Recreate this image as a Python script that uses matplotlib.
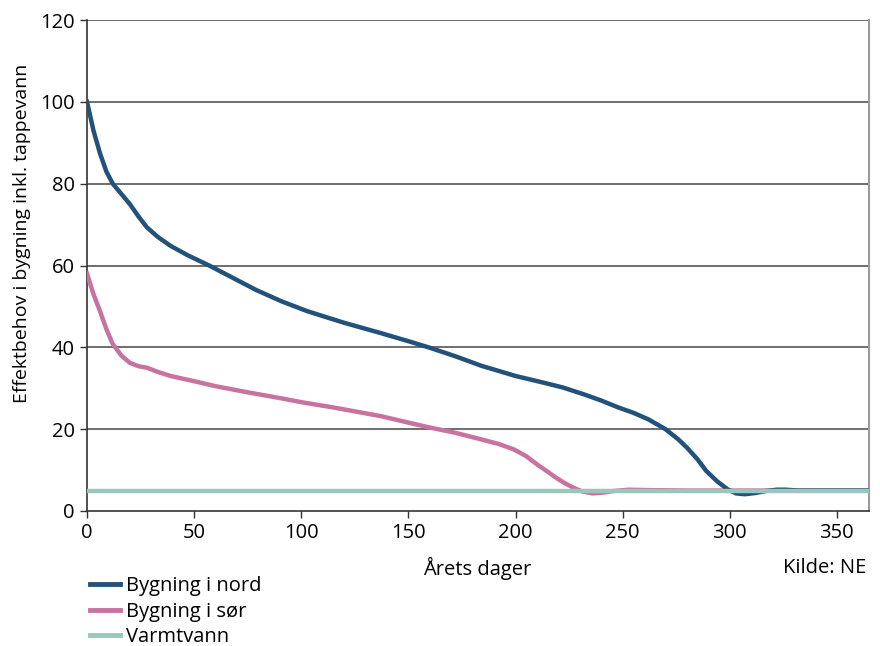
import numpy as np
import matplotlib.pyplot as plt
from matplotlib.lines import Line2D

plt.rcParams['font.family'] = ['Open Sans', 'DejaVu Sans']

# Bygning i nord (dag, effekt)
nord_dag = [0, 3, 6, 9, 12, 16, 20, 24, 28, 33, 39, 47, 57, 68, 79, 91, 103, 120, 137, 150, 160, 172, 184, 200, 212, 222, 232, 240, 248, 255, 262, 270, 276, 280, 285, 289, 294, 299, 303, 307, 312, 317, 322, 326, 332, 340, 365]
nord_val = [100, 93, 87.5, 83, 80, 77.5, 75, 72, 69.3, 67, 64.8, 62.5, 60, 57, 54, 51.2, 48.8, 46, 43.5, 41.5, 39.9, 37.8, 35.5, 33, 31.5, 30.2, 28.5, 27, 25.3, 24, 22.4, 20, 17.5, 15.5, 12.6, 9.8, 7.3, 5.3, 4.3, 4.1, 4.4, 4.9, 5.2, 5.2, 5, 5, 5]

# Bygning i sør (dag, effekt)
sor_dag = [0, 3, 6, 9, 12, 16, 20, 24, 28, 33, 39, 45, 51, 60, 75, 90, 100, 115, 137, 150, 160, 172, 184, 192, 199, 205, 210, 215, 219, 223, 227, 231, 236, 241, 246, 253, 262, 280, 365]
sor_val = [58, 53, 48.9, 44.5, 40.8, 38, 36.2, 35.4, 35, 34, 33, 32.3, 31.6, 30.5, 29, 27.6, 26.6, 25.3, 23.2, 21.6, 20.4, 19.1, 17.5, 16.4, 15.1, 13.4, 11.4, 9.6, 8.1, 6.8, 5.7, 4.8, 4.3, 4.5, 4.9, 5.2, 5.1, 5, 5]

# Varmtvann
varm_dag = [0, 365]
varm_val = [5, 5]

c_nord = '#22527b'
c_sor = '#c8739f'
c_varm = '#9cc6bb'
fs = 14.5

fig = plt.figure(figsize=(8.8, 6.46), dpi=100)
ax = fig.add_axes([0.0989, 0.209, 0.8886, 0.760])

ax.plot(sor_dag, sor_val, color=c_sor, lw=3.2, solid_joinstyle='round', zorder=4)
ax.plot(nord_dag, nord_val, color=c_nord, lw=3.2, solid_joinstyle='round', zorder=5)
ax.plot(varm_dag, varm_val, color=c_varm, lw=3.2, solid_capstyle='butt', zorder=6)

ax.set_xlim(0, 365)
ax.set_ylim(0, 120)
ax.set_xticks([0, 50, 100, 150, 200, 250, 300, 350])
ax.set_yticks([0, 20, 40, 60, 80, 100, 120])

for y in [20, 40, 60, 80, 100, 120]:
    ax.axhline(y, color='#555555', lw=1.2, zorder=1)

ax.spines['top'].set_visible(False)
ax.spines['left'].set_color('#333333')
ax.spines['bottom'].set_color('#333333')
ax.spines['right'].set_color('#9a9aa0')
ax.spines['left'].set_linewidth(1.2)
ax.spines['bottom'].set_linewidth(1.2)
ax.spines['right'].set_linewidth(1.5)
ax.tick_params(direction='out', length=5, width=1, color='#333333', labelsize=fs, pad=4)

fig.text(0.025, 1 - 233 / 646, 'Effektbehov i bygning inkl. tappevann', rotation=90,
         ha='center', va='center', fontsize=14)
fig.text(0.542, 1 - 568 / 646, 'Årets dager', ha='center', va='center', fontsize=fs)
fig.text(0.985, 1 - 568 / 646, 'Kilde: NE', ha='right', va='center', fontsize=fs)

handles = [Line2D([], [], color=c_nord, lw=3.5),
           Line2D([], [], color=c_sor, lw=3.5),
           Line2D([], [], color=c_varm, lw=3.5)]
fig.legend(handles, ['Bygning i nord', 'Bygning i sør', 'Varmtvann'],
           loc='upper left', bbox_to_anchor=(90 / 880, 1 - 576 / 646), frameon=False,
           fontsize=fs, handlelength=1.5, handletextpad=0.3, labelspacing=0.28,
           borderaxespad=0, borderpad=0)

fig.savefig('out.png', dpi=100)
